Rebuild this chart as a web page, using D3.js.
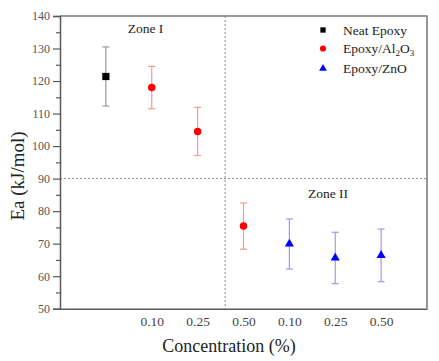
<!DOCTYPE html>
<html>
<head>
<meta charset="utf-8">
<script src="https://cdn.jsdelivr.net/npm/d3@7"></script>
<style>
  body { margin: 0; background: #fff; }
  svg { display: block; }
</style>
</head>
<body>
<div id="chart"></div>
<script>
// x positions (category slots) and the tick labels printed under them
const tickPositions = [2, 3, 4, 5, 6, 7];
const tickLabels = ['0.10', '0.25', '0.50', '0.10', '0.25', '0.50'];

// series: slot, Ea (kJ/mol), error half-width
const neatPos = [1];
const neatEa = [121.4];
const neatErr = [9.1];

const aluminaPos = [2, 3, 4];
const aluminaEa = [118.0, 104.5, 75.4];
const aluminaErr = [6.5, 7.4, 7.1];

const zincPos = [5, 6, 7];
const zincEa = [69.9, 65.6, 66.4];
const zincErr = [7.7, 7.9, 8.1];

const zoneSplitX = 3.6;
const zoneSplitY = 90;

const width = 439, height = 361;
const margin = { top: 16, right: 12, bottom: 53, left: 60 };

const svg = d3.select('#chart')
  .append('svg')
  .attr('width', width)
  .attr('height', height);

const x = d3.scaleLinear()
  .domain([0, 8])
  .range([margin.left, width - margin.right]);

const y = d3.scaleLinear()
  .domain([50, 140])
  .range([height - margin.bottom + 0.7, margin.top]);

const serif = 'Liberation Serif, Times New Roman, serif';
const axisColor = '#5a5a5a';

// frame (top and right)
svg.append('path')
  .attr('d', `M${x(0)},${y(140)}H${x(8)}V${y(50)}`)
  .attr('fill', 'none')
  .attr('stroke', '#777')
  .attr('stroke-width', 1.5);

// dashed zone separators
svg.append('line')
  .attr('x1', x(zoneSplitX)).attr('x2', x(zoneSplitX))
  .attr('y1', y(140)).attr('y2', y(50))
  .attr('stroke', '#888').attr('stroke-width', 1)
  .attr('stroke-dasharray', '2,2');
svg.append('line')
  .attr('x1', x(0)).attr('x2', x(8))
  .attr('y1', y(zoneSplitY)).attr('y2', y(zoneSplitY))
  .attr('stroke', '#888').attr('stroke-width', 1)
  .attr('stroke-dasharray', '2,2');

// y axis with minor ticks
const yAxis = svg.append('g')
  .attr('transform', `translate(${x(0)},0)`)
  .call(d3.axisLeft(y).tickValues(d3.range(50, 141, 10)).tickSize(7).tickPadding(3));
svg.append('g')
  .attr('transform', `translate(${x(0)},0)`)
  .call(d3.axisLeft(y).tickValues(d3.range(55, 140, 10)).tickSize(4).tickFormat(''))
  .call(g => g.select('.domain').remove());

// x axis, labels only
const xAxis = svg.append('g')
  .attr('transform', `translate(0,${y(50)})`)
  .call(d3.axisBottom(x).tickValues(tickPositions)
    .tickFormat((d, i) => tickLabels[i]).tickSize(0).tickPadding(8));

svg.selectAll('.domain').attr('stroke', axisColor).attr('stroke-width', 1.5);
svg.selectAll('.tick line').attr('stroke', axisColor).attr('stroke-width', 1.2);
yAxis.selectAll('text').attr('font-family', serif).attr('font-size', '12px').attr('fill', '#555');
xAxis.selectAll('text').attr('font-family', serif).attr('font-size', '13.5px').attr('fill', '#444');

// axis titles
svg.append('text')
  .attr('x', 229).attr('y', 352)
  .attr('text-anchor', 'middle')
  .attr('font-family', serif).attr('font-size', '18px')
  .attr('fill', '#222')
  .text('Concentration (%)');

svg.append('text')
  .attr('transform', 'translate(23.5,176) rotate(-90)')
  .attr('text-anchor', 'middle')
  .attr('font-family', serif).attr('font-size', '19px')
  .attr('fill', '#222')
  .text('Ea (kJ/mol)');

// zone labels
svg.append('text')
  .attr('x', 145.5).attr('y', 33)
  .attr('text-anchor', 'middle')
  .attr('font-family', serif).attr('font-size', '13.5px').attr('fill', '#222')
  .text('Zone I');
svg.append('text')
  .attr('x', 328).attr('y', 198)
  .attr('text-anchor', 'middle')
  .attr('font-family', serif).attr('font-size', '13.5px').attr('fill', '#222')
  .text('Zone II');

// error bars + markers
const series = [
  { pos: neatPos, ea: neatEa, err: neatErr, fill: '#000', bar: '#999', shape: d3.symbolSquare, size: 52 },
  { pos: aluminaPos, ea: aluminaEa, err: aluminaErr, fill: '#ff0000', bar: '#f29a9a', shape: d3.symbolCircle, size: 44 },
  { pos: zincPos, ea: zincEa, err: zincErr, fill: '#0000ff', bar: '#9c9cee', shape: d3.symbolTriangle, size: 36 }
];

series.forEach(s => {
  const pts = s.pos.map((p, i) => ({ p, v: s.ea[i], e: s.err[i] }));
  const g = svg.append('g');
  const bars = g.selectAll('g.err').data(pts).enter().append('g')
    .attr('stroke', s.bar).attr('stroke-width', 1.2);
  bars.append('line')
    .attr('x1', d => x(d.p)).attr('x2', d => x(d.p))
    .attr('y1', d => y(d.v + d.e)).attr('y2', d => y(d.v - d.e));
  bars.append('line')
    .attr('x1', d => x(d.p) - 3.5).attr('x2', d => x(d.p) + 3.5)
    .attr('y1', d => y(d.v + d.e)).attr('y2', d => y(d.v + d.e));
  bars.append('line')
    .attr('x1', d => x(d.p) - 3.5).attr('x2', d => x(d.p) + 3.5)
    .attr('y1', d => y(d.v - d.e)).attr('y2', d => y(d.v - d.e));
  g.selectAll('path.mark').data(pts).enter().append('path')
    .attr('d', d3.symbol().type(s.shape).size(s.size))
    .attr('transform', d => `translate(${x(d.p)},${y(d.v)})`)
    .attr('fill', s.fill);
});

// legend
const legendItems = [
  { label: 'Neat Epoxy', fill: '#000', shape: d3.symbolSquare, size: 28, y: 30 },
  { label: 'Epoxy/Al', sub: ['2', 'O', '3'], fill: '#ff0000', shape: d3.symbolCircle, size: 30, y: 48.5 },
  { label: 'Epoxy/ZnO', fill: '#0000ff', shape: d3.symbolTriangle, size: 26, y: 68.5 }
];

const legend = svg.append('g');
legendItems.forEach(it => {
  legend.append('path')
    .attr('d', d3.symbol().type(it.shape).size(it.size))
    .attr('transform', `translate(323,${it.y})`)
    .attr('fill', it.fill);
  const t = legend.append('text')
    .attr('x', 343).attr('y', it.y + 4.5)
    .attr('font-family', serif).attr('font-size', '13.5px').attr('fill', '#222');
  t.append('tspan').text(it.label);
  if (it.sub) {
    t.append('tspan').attr('dy', 3).attr('font-size', '9px').text(it.sub[0]);
    t.append('tspan').attr('dy', -3).text(it.sub[1]);
    t.append('tspan').attr('dy', 3).attr('font-size', '9px').text(it.sub[2]);
  }
});
</script>
</body>
</html>
